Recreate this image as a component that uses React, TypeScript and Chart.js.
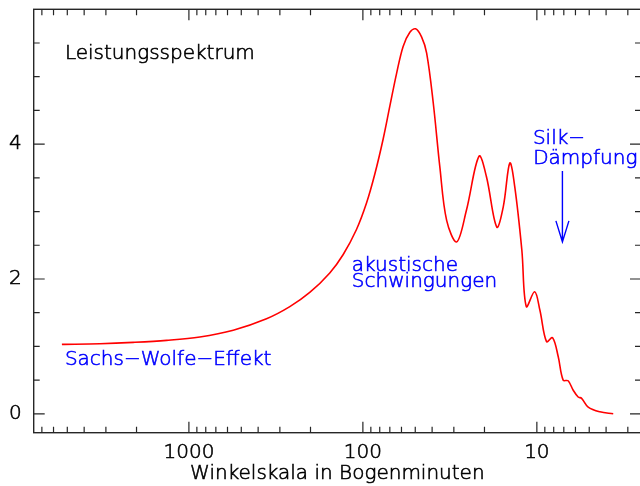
import React, { useEffect, useRef } from "react";
import { Chart, registerables } from "chart.js";

Chart.register(...registerables);

// ---- data (angular scale in arcminutes, power) ----
const arcminutes = [
  5370, 3247, 2089, 1343, 865, 556, 358, 263, 202, 155,
  130, 109, 95.2, 85.3, 76.4, 69.9, 64.0, 58.7, 53.7, 49.8,
  46.0, 43.0, 39.4, 36.1, 33.0, 28.9, 25.4, 21.5, 19.5, 17.0,
  15.6, 14.3, 13.4, 12.2, 11.5, 10.3, 9.61, 8.8, 8.12, 7.54,
  7.06, 6.61, 6.18, 5.79, 5.53, 5.07, 4.34, 3.64,
];
const power = [
  1.03, 1.04, 1.06, 1.09, 1.14, 1.24, 1.41, 1.59, 1.80, 2.09,
  2.36, 2.73, 3.13, 3.56, 4.08, 4.57, 5.05, 5.45, 5.66, 5.71,
  5.59, 5.35, 4.61, 3.66, 2.87, 2.55, 3.02, 3.82, 3.52, 2.77,
  3.07, 3.72, 3.37, 2.43, 1.59, 1.81, 1.54, 1.07, 1.13, 0.85,
  0.50, 0.49, 0.35, 0.25, 0.23, 0.10, 0.03, 0.0,
];

const xTickValues = [1000, 100, 10];
const yTickValues = [0, 2, 4];
const xTitle = "Winkelskala in Bogenminuten";

const noteTexts = ["Leistungsspektrum", "Silk\u2212", "D\u00e4mpfung", "akustische", "Schwingungen", "Sachs\u2212Wolfe\u2212Effekt"];
const noteX = [5160, 10.54, 10.5, 115.7, 115.7, 5160];
const noteY = [5.27, 4.0, 3.71, 2.12, 1.88, 0.72];
const noteIsTitle = [true, false, false, false, false, false];

const arrowX = 7.13;
const arrowFromY = 3.6;
const arrowToY = 2.55;

// ---- styles ----
const W = 660;
const H = 486;
const FONT_FAMILY = "'DejaVu Sans', sans-serif";
const FONT_SIZE = 20;
const FONT_WEIGHT = "200";
const TEXT_STROKE = 0.6;
const AXIS_COLOR = "#262626";
const TEXT_COLOR = "#000000";
const NOTE_COLOR = "#0000ff";
const CURVE_COLOR = "#ff0000";

function drawText(ctx: CanvasRenderingContext2D, text: string, x: number, y: number, color: string) {
  ctx.fillStyle = color;
  ctx.strokeStyle = color;
  ctx.lineWidth = TEXT_STROKE;
  ctx.fillText(text, x, y);
  ctx.strokeText(text, x, y);
}

const frameAndNotes = {
  id: "frameAndNotes",
  afterDatasetsDraw(chart: any) {
    const { ctx, chartArea } = chart;
    const { left, right, top, bottom } = chartArea;
    const xs = chart.scales.x;
    const ys = chart.scales.y;
    ctx.save();
    ctx.strokeStyle = AXIS_COLOR;
    ctx.lineWidth = 1.4;
    ctx.strokeRect(left, top, right - left, bottom - top);

    const major = 11;
    const minor = 6;
    ctx.lineWidth = 1.2;
    ctx.beginPath();
    // x ticks (log decades)
    for (let d = 1; d <= 10000; d *= 10) {
      for (let m = 1; m <= 9; m++) {
        const v = m * d;
        if (v < xs.min || v > xs.max) continue;
        const px = xs.getPixelForValue(v);
        const len = m === 1 ? major : minor;
        ctx.moveTo(px, bottom);
        ctx.lineTo(px, bottom - len);
        ctx.moveTo(px, top);
        ctx.lineTo(px, top + len);
      }
    }
    // y ticks
    for (let k = 0; k <= 12; k++) {
      const v = k * 0.5;
      if (v < ys.min || v >= ys.max) continue;
      const py = ys.getPixelForValue(v);
      const len = k % 4 === 0 ? major : minor;
      ctx.moveTo(left, py);
      ctx.lineTo(left + len, py);
      ctx.moveTo(right, py);
      ctx.lineTo(right - len, py);
    }
    ctx.stroke();

    ctx.font = `${FONT_WEIGHT} ${FONT_SIZE}px ${FONT_FAMILY}`;
    ctx.textBaseline = "alphabetic";

    // axis title, centred under the x scale
    ctx.textAlign = "center";
    drawText(ctx, xTitle, (xs.left + xs.right) / 2, xs.bottom - 6.7, TEXT_COLOR);

    // annotations
    ctx.textAlign = "left";
    for (let i = 0; i < noteTexts.length; i++) {
      drawText(ctx, noteTexts[i], xs.getPixelForValue(noteX[i]), ys.getPixelForValue(noteY[i]), noteIsTitle[i] ? TEXT_COLOR : NOTE_COLOR);
    }

    // arrow
    const ax = xs.getPixelForValue(arrowX);
    const ay0 = ys.getPixelForValue(arrowFromY);
    const ay1 = ys.getPixelForValue(arrowToY);
    ctx.strokeStyle = NOTE_COLOR;
    ctx.lineWidth = 1.4;
    ctx.beginPath();
    ctx.moveTo(ax, ay0);
    ctx.lineTo(ax, ay1);
    ctx.moveTo(ax - 6.5, ay1 - 21);
    ctx.lineTo(ax, ay1);
    ctx.lineTo(ax + 6.5, ay1 - 21);
    ctx.stroke();
    ctx.restore();
  },
};

export default function App() {
  const ref = useRef<HTMLCanvasElement | null>(null);
  useEffect(() => {
    document.body.style.margin = "0";
    document.body.style.overflow = "hidden";
    const canvas = ref.current;
    if (!canvas) return;
    const font = { family: FONT_FAMILY, size: FONT_SIZE, weight: FONT_WEIGHT };
    const chart = new Chart(canvas, {
      type: "scatter",
      data: {
        datasets: [
          {
            data: arcminutes.map((a, i) => ({ x: a, y: power[i] })),
            showLine: true,
            borderColor: CURVE_COLOR,
            borderWidth: 1.6,
            pointRadius: 0,
            tension: 0.35,
          } as any,
        ],
      },
      options: {
        responsive: false,
        animation: false,
        events: [],
        layout: { padding: { top: 9.3, right: W - 641, left: 0, bottom: 0 } },
        plugins: { legend: { display: false }, tooltip: { enabled: false } },
        scales: {
          x: {
            type: "logarithmic",
            reverse: true,
            min: 2.52,
            max: 7800,
            afterBuildTicks: (s: any) => {
              s.ticks = xTickValues.map((v) => ({ value: v }));
            },
            afterFit: (s: any) => {
              s.height = H - 432.7;
              s.paddingLeft = 0;
              s.paddingRight = 0;
            },
            ticks: {
              callback: (v: any) => String(v),
              font,
              color: TEXT_COLOR,
              textStrokeColor: TEXT_COLOR,
              textStrokeWidth: TEXT_STROKE,
              padding: 8,
              autoSkip: false,
              maxRotation: 0,
            },
            grid: { display: false, drawTicks: false },
            border: { display: false },
            title: { display: false },
          },
          y: {
            type: "linear",
            min: -0.28,
            max: 6,
            afterBuildTicks: (s: any) => {
              s.ticks = yTickValues.map((v) => ({ value: v }));
            },
            afterFit: (s: any) => {
              s.width = 33.7;
              s.paddingTop = 0;
              s.paddingBottom = 0;
            },
            ticks: {
              callback: (v: any) => String(v),
              font,
              color: TEXT_COLOR,
              textStrokeColor: TEXT_COLOR,
              textStrokeWidth: TEXT_STROKE,
              padding: 12,
              autoSkip: false,
            },
            grid: { display: false, drawTicks: false },
            border: { display: false },
          },
        },
      } as any,
      plugins: [frameAndNotes],
    });
    return () => chart.destroy();
  }, []);
  return (
    <div style={{ position: "fixed", left: 0, top: 0, width: W, height: H, background: "#fff" }}>
      <canvas ref={ref} width={W} height={H} style={{ width: W, height: H, display: "block" }} />
    </div>
  );
}
